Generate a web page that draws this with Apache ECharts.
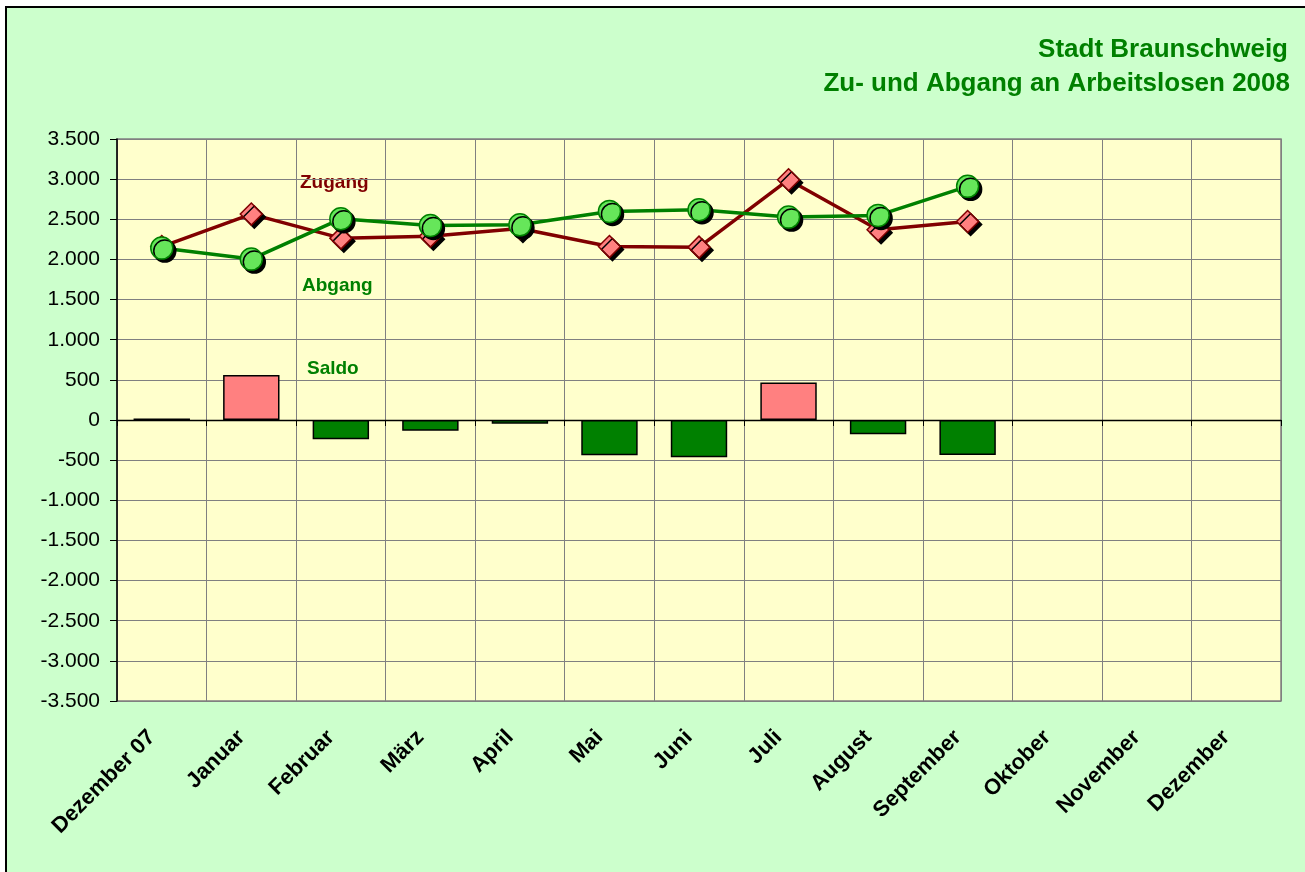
<!DOCTYPE html>
<html>
<head>
<meta charset="utf-8">
<script src="https://cdn.jsdelivr.net/npm/echarts@6/dist/echarts.min.js"></script>
<style>
html,body{margin:0;padding:0;background:#fff;overflow:hidden;width:1305px;height:872px;}
#frame{position:absolute;left:5px;top:6px;width:1400px;height:1000px;border-left:2px solid #000;border-top:2px solid #000;background:#CCFFCC;}
#chart{position:absolute;left:0;top:0;width:1305px;height:872px;}
</style>
</head>
<body>
<div id="frame"></div>
<div id="chart"></div>
<script>
const categories = ['Dezember 07','Januar','Februar','März','April','Mai','Juni','Juli','August','September','Oktober','November','Dezember'];
const zugang = [2160, 2565, 2265, 2290, 2385, 2160, 2153, 2993, 2369, 2473, null, null, null];
const abgang = [2141, 2004, 2506, 2423, 2431, 2598, 2618, 2527, 2548, 2910, null, null, null];
const saldo  = [19, 561, -241, -133, -46, -438, -465, 466, -179, -437, null, null, null];
const yTicks = { min: -3500, max: 3500, interval: 500 };
const titleLines = ['Stadt Braunschweig', 'Zu- und Abgang an Arbeitslosen 2008'];

const fmt = v => {
  const s = Math.abs(v).toString().replace(/\B(?=(\d{3})+(?!\d))/g, '.');
  return (v < 0 ? '-' : '') + s;
};
const FONT = '"Liberation Sans", Arial, sans-serif';
const chart = echarts.init(document.getElementById('chart'), null, {renderer: 'canvas'});
chart.setOption({
  animation: false,
  backgroundColor: 'transparent',
  textStyle: { fontFamily: FONT },
  grid: { left: 117, top: 139, right: 24, bottom: 171, show: true, backgroundColor: '#FFFFCC', borderColor: '#808080', borderWidth: 1.5 },
  graphic: [
    { type: 'text', right: 17, top: 37, style: { text: titleLines[0], font: 'bold 26px ' + FONT, fill: '#008000', align: 'right' } },
    { type: 'text', right: 15, top: 71, style: { text: titleLines[1], font: 'bold 26px ' + FONT, fill: '#008000', align: 'right' } },
    { type: 'text', left: 300, top: 173, style: { text: 'Zugang', font: 'bold 19px ' + FONT, fill: '#800000' } },
    { type: 'text', left: 302, top: 276, style: { text: 'Abgang', font: 'bold 19px ' + FONT, fill: '#008000' } },
    { type: 'text', left: 307, top: 359, style: { text: 'Saldo', font: 'bold 19px ' + FONT, fill: '#008000' } }
  ],
  xAxis: [
    {
      type: 'category', data: categories, boundaryGap: true,
      axisLine: { show: false, onZero: false }, axisTick: { show: false },
      splitLine: { show: true, interval: 0, lineStyle: { color: '#808080', width: 1 } },
      axisLabel: { rotate: 45, margin: 23, padding: [0, 14, 0, 0], color: '#000', fontWeight: 'bold', fontSize: 22, fontFamily: FONT, interval: 0 }
    },
    {
      type: 'category', data: categories, boundaryGap: true, position: 'bottom',
      axisLine: { show: true, onZero: true, lineStyle: { color: '#000', width: 1.3 } },
      axisTick: { show: true, interval: 0, length: 6, lineStyle: { color: '#000' } },
      axisLabel: { show: false, interval: 0 }, splitLine: { show: false }
    }
  ],
  yAxis: {
    type: 'value', min: yTicks.min, max: yTicks.max, interval: yTicks.interval,
    axisLine: { show: true, onZero: false, lineStyle: { color: '#000', width: 1.5 } },
    axisTick: { show: true, length: 7, lineStyle: { color: '#000' } },
    splitLine: { show: true, lineStyle: { color: '#808080', width: 1 } },
    axisLabel: { formatter: fmt, color: '#000', fontSize: 21, fontFamily: FONT, margin: 17 }
  },
  series: [
    {
      name: 'Saldo', type: 'bar', data: saldo, barWidth: '63%', xAxisIndex: 0,
      itemStyle: {
        color: p => (p.value >= 0 ? '#FF8080' : '#008000'),
        borderColor: '#000', borderWidth: 1.5
      }
    },
    {
      name: 'Zugang', type: 'line', data: zugang, xAxisIndex: 0,
      symbol: 'diamond', symbolSize: 22,
      lineStyle: { color: '#800000', width: 3.5 },
      itemStyle: { color: '#FF8080', borderColor: '#800000', borderWidth: 1.5, shadowColor: '#000', shadowBlur: 0, shadowOffsetX: 3, shadowOffsetY: 3 }
    },
    {
      name: 'Abgang', type: 'line', data: abgang, xAxisIndex: 0,
      symbol: 'circle', symbolSize: 22,
      lineStyle: { color: '#008000', width: 3.5 },
      itemStyle: { color: '#66E65A', borderColor: '#008000', borderWidth: 1.5, shadowColor: '#000', shadowBlur: 0, shadowOffsetX: 3, shadowOffsetY: 3 }
    }
  ]
});
</script>
</body>
</html>
